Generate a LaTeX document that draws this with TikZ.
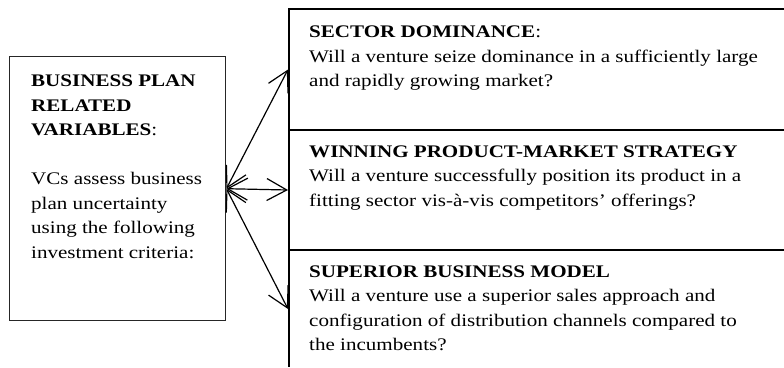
\documentclass[tikz,border=0pt]{standalone}
\usepackage{fontspec}
\setmainfont{Liberation Serif}[FakeStretch=1.19]
\usetikzlibrary{arrows.meta}
\usetikzlibrary{positioning}
\tikzset{
  % Arrow tips and text look shared by the whole diagram
  >={Straight Barb[length=20pt,width=22pt]},
  link/.style={draw, <->, line width=1.2pt},
  boxtext/.style={inner sep=0pt, align=left, font=\fontsize{17.7}{24.5}\selectfont}
}

\begin{document}
\begin{tikzpicture}[
    x=1pt, y=-1pt,
    planbox/.style={rectangle, draw=black!85, line width=1.4pt, inner sep=0pt,
               minimum width=216pt, minimum height=264pt, anchor=north west},
    critbox/.style={rectangle, draw=black, line width=2pt, inner sep=0pt,
               minimum width=520pt, anchor=north west}
]
\useasboundingbox (0,0) rectangle (784,367);
\clip (0,0) rectangle (784,366.2);

% Business plan box
\node[planbox] (plan) at (9,56) {};
\node[boxtext, below right=19pt and 22pt of plan.north west] (plantext)
  {\textbf{BUSINESS PLAN}\\ \textbf{RELATED}\\ \textbf{VARIABLES}:\\[24.5pt]
   VCs assess business\\ plan uncertainty\\ using the following\\ investment criteria:};

% Investment criteria
\node[critbox, minimum height=121pt] (dominance) at (288,8) {};
\node[critbox, minimum height=120pt] (strategy) at (288,129) {};
\node[critbox, minimum height=118pt] (model) at (288,249) {};

\node[boxtext, below right=18pt and 21pt of dominance.north west] (dominancetext)
  {\textbf{SECTOR DOMINANCE}:\\ Will a venture seize dominance in a sufficiently large\\ and rapidly growing market?};
\node[boxtext, below right=16.5pt and 21pt of strategy.north west] (strategytext)
  {\textbf{WINNING PRODUCT-MARKET STRATEGY}\\ Will a venture successfully position its product in a\\ fitting sector vis-à-vis competitors’ offerings?};
\node[boxtext, below right=16.5pt and 21pt of model.north west] (modeltext)
  {\textbf{SUPERIOR BUSINESS MODEL}\\ Will a venture use a superior sales approach and\\ configuration of distribution channels compared to\\ the incumbents?};

% Arrows
\draw[link] (plan.east) -- (dominance.west);
\draw[link] (plan.east) -- (strategy.west);
\draw[link] (plan.east) -- (model.west);

\end{tikzpicture}
\end{document}
